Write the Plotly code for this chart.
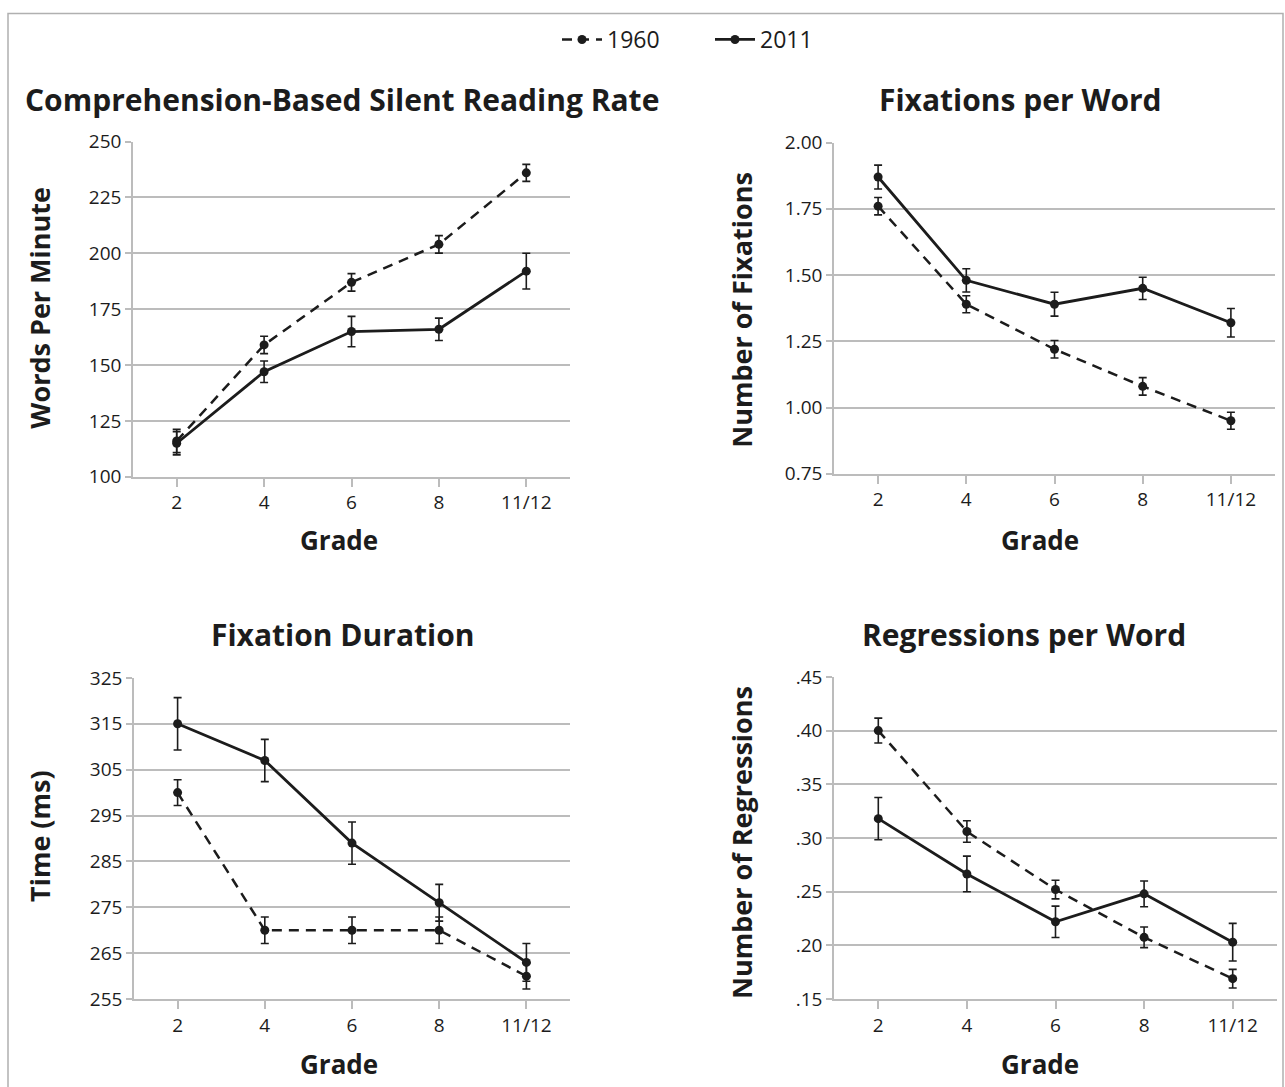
import plotly.graph_objects as go

grades = ["2", "4", "6", "8", "11/12"]

rate_1960 = [116, 159, 187, 204, 236]
rate_1960_err = [5.2, 3.9, 3.9, 3.9, 3.8]
rate_2011 = [115, 147, 165, 166, 192]
rate_2011_err = [5.2, 4.8, 6.8, 5.0, 8.0]

fix_1960 = [1.76, 1.39, 1.22, 1.08, 0.95]
fix_1960_err = [0.033, 0.032, 0.033, 0.033, 0.032]
fix_2011 = [1.87, 1.48, 1.39, 1.45, 1.32]
fix_2011_err = [0.045, 0.044, 0.045, 0.042, 0.054]

dur_1960 = [300, 270, 270, 270, 260]
dur_1960_err = [2.8, 2.9, 2.9, 2.9, 2.8]
dur_2011 = [315, 307, 289, 276, 263]
dur_2011_err = [5.7, 4.6, 4.6, 4.0, 4.1]

reg_1960 = [0.400, 0.306, 0.252, 0.2075, 0.169]
reg_1960_err = [0.0116, 0.010, 0.0087, 0.0096, 0.0087]
reg_2011 = [0.318, 0.2665, 0.222, 0.248, 0.203]
reg_2011_err = [0.0197, 0.0166, 0.0146, 0.012, 0.0175]

reg_ticks = [0.15, 0.20, 0.25, 0.30, 0.35, 0.40, 0.45]
reg_ticktext = [".15", ".20", ".25", ".30", ".35", ".40", ".45"]

W, H = 1285, 1087
FONT = "Open Sans"
INK = "#1c1c1c"
GRID = "#bcbcbc"

fig = go.Figure()

panels = [
    (rate_1960, rate_1960_err, rate_2011, rate_2011_err, "x", "y"),
    (fix_1960, fix_1960_err, fix_2011, fix_2011_err, "x2", "y2"),
    (dur_1960, dur_1960_err, dur_2011, dur_2011_err, "x3", "y3"),
    (reg_1960, reg_1960_err, reg_2011, reg_2011_err, "x4", "y4"),
]

for i, (a, ae, b, be, xa, ya) in enumerate(panels):
    fig.add_trace(go.Scatter(
        x=grades, y=a, xaxis=xa, yaxis=ya, name="1960", showlegend=(i == 0),
        mode="lines+markers", line=dict(color=INK, width=2.5, dash="10px,7px"),
        marker=dict(size=9, color=INK),
        error_y=dict(type="data", array=ae, visible=True, color=INK, thickness=1.6, width=4),
    ))
    fig.add_trace(go.Scatter(
        x=grades, y=b, xaxis=xa, yaxis=ya, name="2011", showlegend=(i == 0),
        mode="lines+markers", line=dict(color=INK, width=2.8),
        marker=dict(size=9, color=INK),
        error_y=dict(type="data", array=be, visible=True, color=INK, thickness=1.6, width=4),
    ))

# the page is shown slightly compressed vertically; map target pixel rows to layout rows
def Y(t):
    return (t - 13.5) / 0.9755

def px_x(a, b):
    return [a / W, b / W]

def px_y(top, bottom):
    return [1 - Y(bottom) / H, 1 - Y(top) / H]

xcommon = dict(
    type="category", range=[-0.5, 4.5], showgrid=False, showline=True, linecolor=GRID, linewidth=1.5,
    ticks="outside", ticklen=8, tickcolor=GRID, tickwidth=1.5,
    tickfont=dict(family=FONT, size=19, color=INK), zeroline=False, fixedrange=True,
)
ycommon = dict(
    showgrid=True, gridcolor=GRID, gridwidth=1.5, showline=True, linecolor=GRID, linewidth=1.5,
    ticks="outside", ticklen=6, tickcolor=GRID, tickwidth=1.5,
    tickfont=dict(family=FONT, size=19, color=INK), zeroline=False, fixedrange=True,
)

fig.update_layout(
    width=W, height=H,
    margin=dict(l=0, r=0, t=0, b=0),
    paper_bgcolor="white", plot_bgcolor="white",
    font=dict(family=FONT, color=INK),
    xaxis=dict(xcommon, domain=px_x(133, 570), anchor="y"),
    yaxis=dict(ycommon, domain=px_y(142, 477), anchor="x", range=[100, 250], tickvals=[100, 125, 150, 175, 200, 225, 250]),
    xaxis2=dict(xcommon, domain=px_x(834, 1275), anchor="y2"),
    yaxis2=dict(ycommon, domain=px_y(143, 474), anchor="x2", range=[0.75, 2.0], tickvals=[0.75, 1.0, 1.25, 1.5, 1.75, 2.0], tickformat=".2f"),
    xaxis3=dict(xcommon, domain=px_x(134, 570), anchor="y3"),
    yaxis3=dict(ycommon, domain=px_y(678, 999), anchor="x3", range=[255, 325], tickvals=[255, 265, 275, 285, 295, 305, 315, 325]),
    xaxis4=dict(xcommon, domain=px_x(834, 1277), anchor="y4"),
    yaxis4=dict(ycommon, domain=px_y(677, 999), anchor="x4", range=[0.15, 0.45], tickvals=reg_ticks, ticktext=reg_ticktext),
    legend=dict(orientation="h", x=710 / W, xanchor="center", y=1 - Y(40) / H, yanchor="middle",
                font=dict(family=FONT, size=23, color=INK), itemwidth=40, entrywidth=98,
                bgcolor="rgba(0,0,0,0)"),
    showlegend=True,
)

def ann(text, x, y, size, bold=True, angle=0):
    fig.add_annotation(
        text=("<b>%s</b>" % text) if bold else text, x=x / W, y=1 - Y(y) / H, xref="paper", yref="paper",
        showarrow=False, xanchor="center", yanchor="middle", textangle=angle,
        font=dict(family=FONT, size=size, color=INK),
    )

ann("Comprehension-Based Silent Reading Rate", 342, 100, 30)
ann("Fixations per Word", 1021, 100, 30)
ann("Fixation Duration", 342, 635, 30)
ann("Regressions per Word", 1024, 635, 30)
ann("Grade", 339, 540, 26)
ann("Grade", 1040, 540, 26)
ann("Grade", 339, 1064, 26)
ann("Grade", 1040, 1064, 26)
ann("Words Per Minute", 40, 308, 27, angle=-90)
ann("Number of Fixations", 742, 310, 27, angle=-90)
ann("Time (ms)", 40, 836, 27, angle=-90)
ann("Number of Regressions", 742, 842, 27, angle=-90)

fig.add_shape(type="rect", xref="paper", yref="paper", x0=8 / W, x1=1283 / W,
              y0=1 - Y(1100) / H, y1=1 - Y(14) / H,
              line=dict(color="#b0b0b0", width=1.5), fillcolor="rgba(0,0,0,0)", layer="below")

post = (
    "document.documentElement.style.margin='0';document.documentElement.style.padding='0';"
    "document.documentElement.style.overflow='hidden';"
    "document.body.style.margin='0';document.body.style.padding='0';document.body.style.overflow='hidden';"
    "var d=document.getElementById('{plot_id}');d.style.position='fixed';d.style.left='0px';d.style.top='0px';"
)
fig.write_html("out.html", post_script=post, config={"displayModeBar": False})
